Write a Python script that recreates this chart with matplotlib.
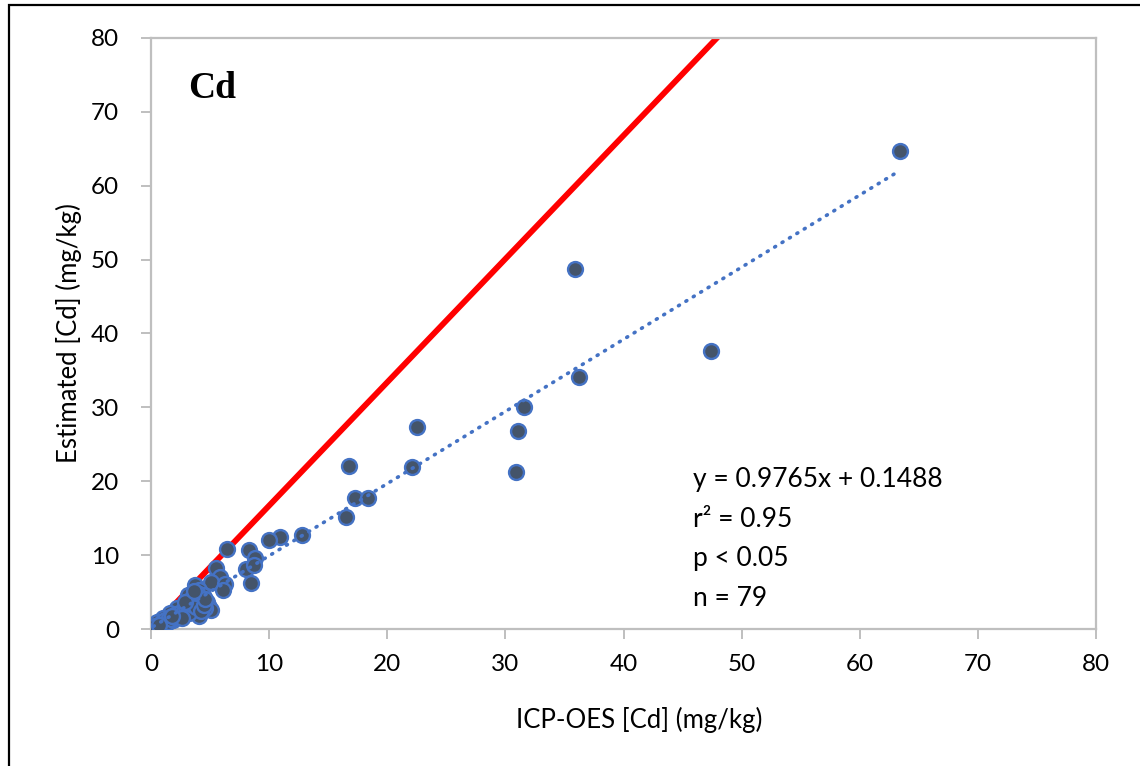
import matplotlib.pyplot as plt
from matplotlib.patches import Rectangle

icp_cd = [63.4, 35.9, 47.4, 36.2, 31.6, 31.1, 30.9, 22.5, 22.1, 16.8,
          17.25, 18.4, 16.5, 12.8, 10.95, 9.95, 6.45, 8.3, 8.8, 8.0,
          8.7, 8.5, 5.5, 5.8, 5.1, 6.3, 6.1, 3.7, 4.1, 3.15,
          4.4, 3.6, 4.7, 4.9, 5.1, 4.1, 3.3, 2.7, 2.2, 1.6,
          1.9, 1.0, 0.6, 0.2, 0.75, 1.3, 4.0, 4.3, 3.85, 4.55,
          0.4, 0.5, 0.8, 0.9, 1.1, 1.2, 1.4, 1.5, 1.7, 2.0,
          2.1, 2.3, 2.5, 2.8, 3.0, 3.2, 3.4, 3.5, 3.8, 4.2,
          4.5, 2.6, 1.8, 0.3, 3.9, 4.6, 2.9, 0.7, 3.6]
est_cd = [64.7, 48.7, 37.6, 34.1, 30.1, 26.8, 21.3, 27.3, 21.9, 22.1,
          17.7, 17.7, 15.1, 12.7, 12.4, 12.1, 10.8, 10.7, 9.6, 8.1,
          8.6, 6.2, 8.2, 7.1, 6.4, 6.1, 5.3, 5.95, 5.3, 4.6,
          4.6, 3.9, 3.7, 3.0, 2.6, 1.7, 2.8, 2.1, 2.8, 2.1,
          1.2, 1.45, 1.0, 0.55, 0.3, 0.8, 3.25, 3.9, 4.6, 2.8,
          0.6, 0.9, 0.6, 1.0, 0.7, 1.2, 1.0, 1.5, 1.3, 1.6,
          2.0, 1.8, 2.3, 2.5, 3.0, 2.2, 3.4, 4.2, 3.0, 2.4,
          3.3, 1.5, 1.7, 0.4, 4.9, 4.1, 3.6, 0.5, 5.2]

fit_slope = 0.9765
fit_intercept = 0.1488
ref_slope = 1.67  # red reference line as drawn in the original
ref_x = [0, 48]

stats_lines = ['y = 0.9765x + 0.1488', 'r\u00b2 = 0.95', 'p < 0.05', 'n = 79']
ticks = [0, 10, 20, 30, 40, 50, 60, 70, 80]

plt.rcParams['font.family'] = ['Lato', 'DejaVu Sans']

fig = plt.figure(figsize=(11.4, 7.66), dpi=100)
ax = fig.add_axes([151 / 1140, 137 / 766, 945 / 1140, 591 / 766])

# red reference line
ax.plot(ref_x, [ref_slope * v for v in ref_x], color='#ff0000', lw=4.2, zorder=2)

ax.scatter(icp_cd, est_cd, s=115, facecolor='#44546a', edgecolor='#4472c4',
           linewidths=1.7, zorder=3)

# linear trend line
x0, x1 = min(icp_cd), max(icp_cd)
ax.plot([x0, x1], [fit_slope * x0 + fit_intercept, fit_slope * x1 + fit_intercept],
        color='#4472c4', lw=2.6, linestyle=(0, (0.3, 2.1)),
        dash_capstyle='round', zorder=4)

ax.set_xlim(0, 80)
ax.set_ylim(0, 80)
ax.set_xticks(ticks)
ax.set_yticks(ticks)
for s in ax.spines.values():
    s.set_color('#bfbfbf')
    s.set_linewidth(1.6)
ax.tick_params(axis='both', length=7, width=1.4, color='#bfbfbf', labelsize=17.5)
ax.tick_params(axis='y', pad=16)
ax.tick_params(axis='x', pad=11)

ax.set_xlabel('ICP-OES [Cd] (mg/kg)', fontsize=18.5)
ax.xaxis.set_label_coords(0.517, -0.131)
ax.set_ylabel('Estimated [Cd] (mg/kg)', fontsize=18.5, labelpad=6)

ax.text(0.039, 0.915, 'Cd', transform=ax.transAxes, fontsize=27, fontweight='bold',
        family='Liberation Serif', va='center', ha='left')

# stats block, one line per baseline
for line, yb in zip(stats_lines, [0.240, 0.173, 0.107, 0.039]):
    ax.text(0.574, yb, line, transform=ax.transAxes, fontsize=19,
            va='baseline', ha='left')

# black frame around the figure (right/bottom edges fall outside the image)
fig.patches.append(Rectangle((8.5 / 1140, -0.05), 1.2, 1.05 - 5.5 / 766,
                             transform=fig.transFigure, fill=False,
                             edgecolor='black', lw=1.6))

fig.savefig('out.png', dpi=100)
